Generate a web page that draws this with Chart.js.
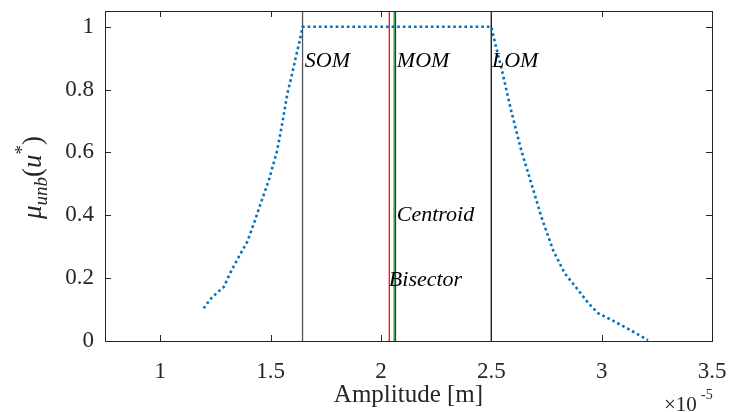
<!DOCTYPE html>
<html><head><meta charset="utf-8">
<script src="https://cdn.jsdelivr.net/npm/chart.js@4"></script>
<style>html,body{margin:0;padding:0;background:#fff;}#wrap{width:731px;height:412px;}</style>
</head><body><div id="wrap"><canvas id="c" width="731" height="412"></canvas></div>
<script>
// Membership curve (amplitude in units of 1e-5 m)
const curveX = [1.197, 1.23, 1.26, 1.288, 1.32, 1.356, 1.394, 1.425, 1.455, 1.492, 1.53, 1.555, 1.576, 1.596, 1.614, 1.632, 1.645, 2.5, 2.52, 2.545, 2.59, 2.636, 2.682, 2.727, 2.78, 2.833, 2.894, 2.94, 2.985, 3.045, 3.13, 3.21];
const curveY = [0.104, 0.135, 0.155, 0.172, 0.22, 0.268, 0.315, 0.375, 0.437, 0.511, 0.606, 0.7, 0.786, 0.845, 0.902, 0.955, 1.0, 1.0, 0.94, 0.871, 0.733, 0.606, 0.5, 0.395, 0.289, 0.215, 0.162, 0.12, 0.088, 0.067, 0.035, 0.003];
// Defuzzification results
const markerNames = ['SOM', 'Bisector', 'Centroid', 'MOM', 'LOM'];
const markerX = [1.645, 2.038, 2.060, 2.066, 2.5];
// Tick labels
const xTicks = [1, 1.5, 2, 2.5, 3, 3.5];
const yTicks = [0, 0.2, 0.4, 0.6, 0.8, 1];

const markerColors = ['#555555', '#e8141e', '#1f9a2e', '#3b2a6e', '#111111'];
const Y_TOP = 1.05;
const labelAnchors = [
  {t: 'SOM', x: 1.655, y: 0.89},
  {t: 'MOM', x: 2.072, y: 0.89},
  {t: 'LOM', x: 2.503, y: 0.89},
  {t: 'Centroid', x: 2.072, y: 0.40},
  {t: 'Bisector', x: 2.036, y: 0.194}
];
const SERIF = '"Liberation Serif","Times New Roman",serif';
const AX = '#262626';

const datasets = [{
  label: 'curve',
  data: curveX.map((x, i) => ({x, y: curveY[i]})),
  showLine: true, borderColor: '#0072BD', borderWidth: 2.6,
  borderDash: [2.6, 3], pointRadius: 0, fill: false, order: 0
}];
markerX.forEach((x, i) => {
  datasets.push({
    label: markerNames[i],
    data: [{x, y: 0}, {x, y: Y_TOP}],
    showLine: true, borderColor: markerColors[i], borderWidth: 1.3,
    pointRadius: 0, fill: false, order: 1
  });
});

const deco = {
  id: 'deco',
  afterDraw(chart) {
    const {ctx, chartArea: a, scales: {x, y}} = chart;
    ctx.save();
    ctx.strokeStyle = AX; ctx.lineWidth = 1;
    ctx.strokeRect(Math.round(a.left) + 0.5, Math.round(a.top) + 0.5, Math.round(a.right - a.left), Math.round(a.bottom - a.top));
    ctx.beginPath();
    xTicks.forEach(v => {
      const px = Math.round(x.getPixelForValue(v)) + 0.5;
      ctx.moveTo(px, a.bottom); ctx.lineTo(px, a.bottom - 6);
      ctx.moveTo(px, a.top); ctx.lineTo(px, a.top + 6);
    });
    yTicks.forEach(v => {
      const py = Math.round(y.getPixelForValue(v)) + 0.5;
      ctx.moveTo(a.left, py); ctx.lineTo(a.left + 6, py);
      ctx.moveTo(a.right, py); ctx.lineTo(a.right - 6, py);
    });
    ctx.stroke();
    ctx.fillStyle = '#000';
    ctx.font = 'italic 22px ' + SERIF;
    ctx.textBaseline = 'middle'; ctx.textAlign = 'left';
    labelAnchors.forEach(l => ctx.fillText(l.t, x.getPixelForValue(l.x), y.getPixelForValue(l.y)));
    ctx.fillStyle = AX;
    ctx.font = '21px ' + SERIF;
    ctx.textAlign = 'left'; ctx.textBaseline = 'alphabetic';
    ctx.fillText('\u00d710', 664, 411);
    ctx.font = '14px ' + SERIF;
    ctx.fillText('-5', 701, 399);
    ctx.translate(41, 219);
    ctx.rotate(-Math.PI / 2);
    ctx.fillStyle = AX;
    let cx = 0;
    const put = (txt, font, dy) => { ctx.font = font; ctx.fillText(txt, cx, dy); cx += ctx.measureText(txt).width; };
    put('\u03bc', 'italic 27px ' + SERIF, 0);
    put('unb', 'italic 19px ' + SERIF, 6);
    put('(', '27px ' + SERIF, 0);
    put('u', 'italic 27px ' + SERIF, 0);
    put('*', '19px ' + SERIF, -13);
    put(')', '27px ' + SERIF, 0);
    ctx.restore();
  }
};

new Chart(document.getElementById('c'), {
  type: 'scatter',
  data: {datasets},
  plugins: [deco],
  options: {
    responsive: false, animation: false, devicePixelRatio: 1,
    layout: {padding: {top: 11, right: 19, bottom: 0, left: 0}},
    plugins: {legend: {display: false}, tooltip: {enabled: false}},
    scales: {
      x: {
        type: 'linear', min: 0.75, max: 3.5,
        afterBuildTicks: s => { s.ticks = xTicks.map(v => ({value: v})); },
        afterFit: s => { s.height = 71; s.paddingLeft = 0; s.paddingRight = 0; },
        grid: {display: false, drawTicks: false}, border: {display: false},
        ticks: {color: AX, font: {family: SERIF, size: 23}, padding: 17, maxRotation: 0, autoSkip: false, callback: v => String(v)},
        title: {display: true, text: 'Amplitude [m]', color: AX, font: {family: SERIF, size: 25}, padding: {top: 0, bottom: 2}}
      },
      y: {
        type: 'linear', min: 0, max: Y_TOP,
        afterBuildTicks: s => { s.ticks = yTicks.map(v => ({value: v})); },
        afterFit: s => { s.width = 105; s.paddingTop = 0; s.paddingBottom = 0; },
        grid: {display: false, drawTicks: false}, border: {display: false},
        ticks: {color: AX, font: {family: SERIF, size: 23}, padding: 11, autoSkip: false, callback: v => String(v)}
      }
    }
  }
});
</script></body></html>
